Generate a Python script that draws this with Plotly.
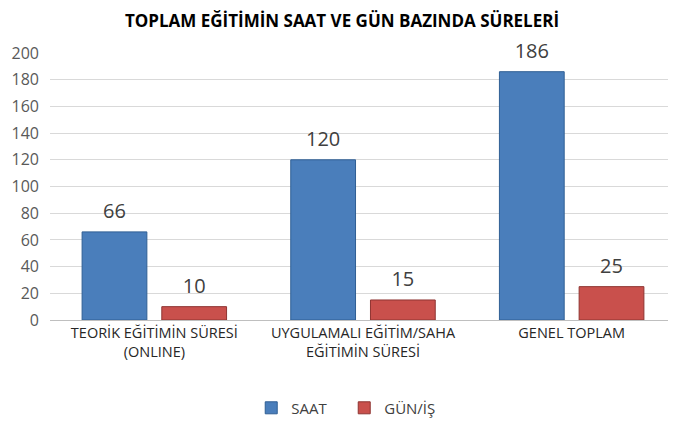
import plotly.graph_objects as go

categories = ["TEORİK EĞİTİMİN SÜRESİ<br>(ONLINE)", "UYGULAMALI EĞİTİM/SAHA<br>EĞİTİMİN SÜRESİ", "GENEL TOPLAM"]
saat = [66, 120, 186]
gun = [10, 15, 25]
series_names = ["SAAT", "GÜN/İŞ"]
y_ticks = [0, 20, 40, 60, 80, 100, 120, 140, 160, 180, 200]
title_text = "TOPLAM EĞİTİMİN SAAT VE GÜN BAZINDA SÜRELERİ"

FONT = "Open Sans"
BLUE, BLUE_LINE = "#4A7EBB", "#2F5F94"
RED, RED_LINE = "#C9504C", "#8E3431"

fig = go.Figure()
for vals, name, col, lcol, grp in [(saat, series_names[0], BLUE, BLUE_LINE, "a"),
                                   (gun, series_names[1], RED, RED_LINE, "b")]:
    fig.add_trace(go.Bar(
        x=categories, y=vals, name=name, offsetgroup=grp,
        marker=dict(color=col, line=dict(color=lcol, width=1)),
    ))
for vals, grp in [(saat, "a"), (gun, "b")]:
    fig.add_trace(go.Scatter(
        x=categories, y=vals, mode="markers+text", offsetgroup=grp,
        text=[str(v) for v in vals], textposition="top center",
        marker=dict(size=12, opacity=0), cliponaxis=False, showlegend=False,
        textfont=dict(family=FONT, size=20, color="#404040"), hoverinfo="skip",
    ))

fig.update_layout(
    width=668, height=415,
    margin=dict(l=42, r=0, t=45, b=103, autoexpand=False),
    paper_bgcolor="white", plot_bgcolor="white",
    barmode="group", bargap=0.236, bargroupgap=0.1875,
    scattermode="group", scattergap=0.236,
    title=dict(text=f"<b>{title_text}</b>", x=0.5, xanchor="center",
               yref="container", y=0.982, yanchor="top", pad=dict(t=0, b=0),
               font=dict(family=FONT, size=17, color="#000000")),
    font=dict(family=FONT),
    showlegend=True,
    legend=dict(orientation="h", x=0.47, xanchor="center", yref="container", y=0.036, yanchor="middle",
                font=dict(family=FONT, size=15, color="#404040"),
                entrywidth=48, entrywidthmode="pixels", traceorder="normal"),
)
fig.update_yaxes(
    range=[0, 200], tickvals=y_ticks, showgrid=True, gridcolor="#D9D9D9", gridwidth=1,
    zeroline=False, showline=False, ticks="", ticklabelstandoff=10, automargin=False,
    tickfont=dict(family=FONT, size=16, color="#595959"),
)
fig.update_xaxes(
    showline=True, linecolor="#BFBFBF", linewidth=1, ticks="", automargin=False,
    tickfont=dict(family=FONT, size=14.5, color="#262626"),
)

fig.write_html("out.html")
